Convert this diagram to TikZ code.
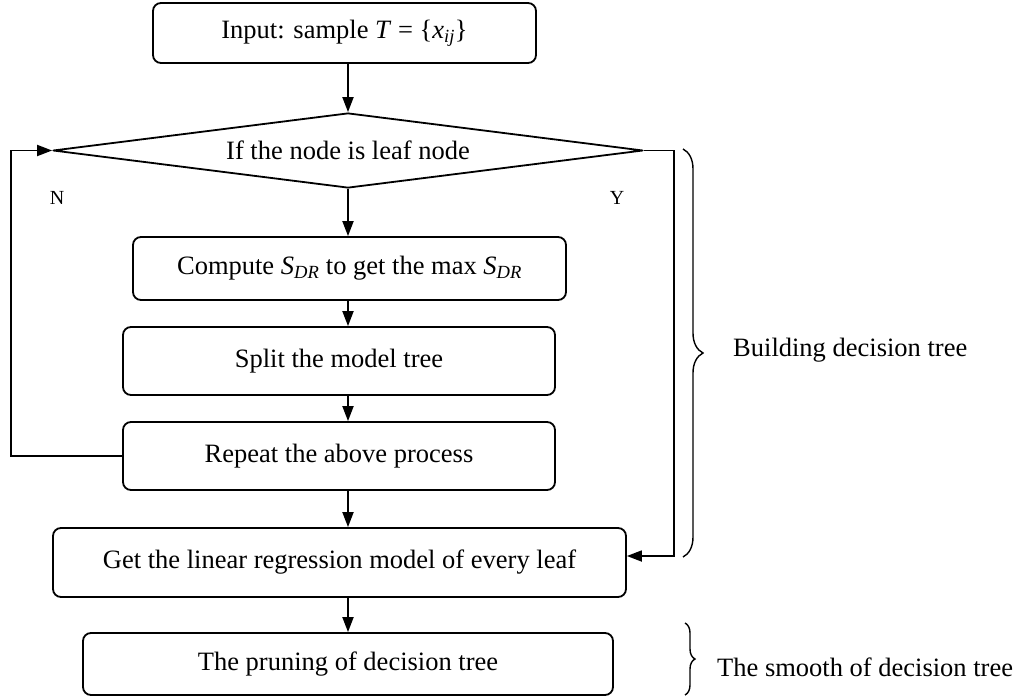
\documentclass[tikz,border=0pt]{standalone}
\usepackage{fontspec}
\setmainfont{Liberation Serif}
\usetikzlibrary{shapes.geometric,arrows.meta,decorations.pathreplacing}
\begin{document}
\begin{tikzpicture}[x=1pt,y=-1pt,
  font=\fontsize{26.5}{30}\selectfont,
  box/.style={draw,line width=1.8pt,rounded corners=8pt,inner sep=0pt,align=center},
  arr/.style={line width=1.8pt,-{Triangle[length=15pt,width=11pt]}},
  lbl/.style={inner sep=0pt},
  yn/.style={inner sep=0pt,font=\fontsize{20}{24}\selectfont},
  brc/.style={decorate,decoration={brace,amplitude=#1},line width=1.4pt}]
\useasboundingbox (0,0) rectangle (1017,699);
% nodes
\node[box,minimum width=383pt,minimum height=60pt] (in) at (344.5,33)
  {Input: sample \textit{T} = \{\textit{x}\textsubscript{\textit{ij}}\}};
\node[draw,diamond,shape aspect=7.87,minimum width=590pt,minimum height=75pt,
  inner sep=0pt,line width=1.8pt,line join=round] (dia) at (348,150.5)
  {If the node is leaf node};
\node[box,minimum width=433pt,minimum height=63pt] (cmp) at (349.5,268.5)
  {Compute \textit{S}\textsubscript{\textit{DR}} to get the max \textit{S}\textsubscript{\textit{DR}}};
\node[box,minimum width=432pt,minimum height=68pt] (spl) at (339,361)
  {Split the model tree};
\node[box,minimum width=432pt,minimum height=68pt] (rep) at (339,456)
  {Repeat the above process};
\node[box,minimum width=573pt,minimum height=69pt] (get) at (339.5,562.5)
  {Get the linear regression model of every leaf};
\node[box,minimum width=530pt,minimum height=62pt] (prn) at (348,664)
  {The pruning of decision tree};
\node[yn] (nlab) at (57,198) {N};
\node[yn] (ylab) at (617,198) {Y};
\node[lbl,anchor=west] (blab) at (733,350) {Building decision tree};
\node[lbl,anchor=west] (slab) at (717,667) {The smooth of decision tree};
% vertical arrows
\draw[arr] (in.south -| dia.north) -- (dia.north);
\draw[arr] (dia.south) -- (cmp.north -| dia.south);
\draw[arr] (cmp.south -| dia.south) -- (spl.north -| dia.south);
\draw[arr] (spl.south -| dia.south) -- (rep.north -| dia.south);
\draw[arr] (rep.south -| dia.south) -- (get.north -| dia.south);
\draw[arr] (get.south -| dia.south) -- (prn.north -| dia.south);
% loops
\coordinate (nl) at (11,456);
\draw[arr,rounded corners=0pt] (rep.west) -- (nl) |- (dia.west);
\coordinate (yl) at (674,556);
\draw[arr] (dia.east) -| (yl) -- (yl -| get.east);
% braces
\coordinate (b1t) at (683,149);
\coordinate (b1b) at (683,557);
\draw[brc=20pt] (b1t) -- (b1b);
\coordinate (b2t) at (685,623);
\coordinate (b2b) at (685,695);
\draw[brc=10pt] (b2t) -- (b2b);
\end{tikzpicture}
\end{document}
